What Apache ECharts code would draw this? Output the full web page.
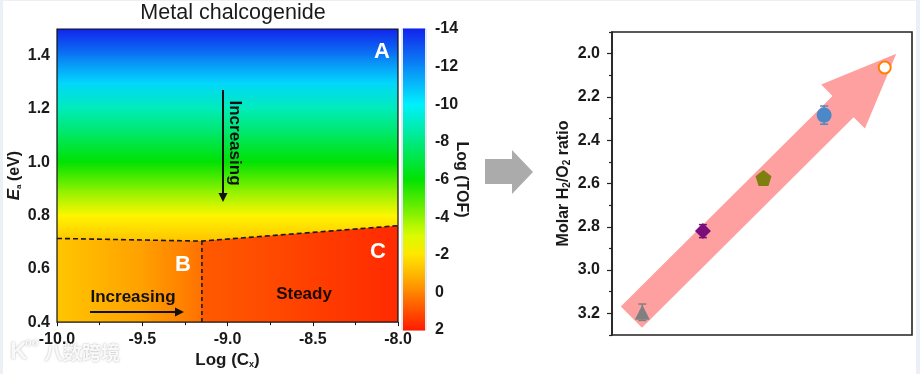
<!DOCTYPE html>
<html><head><meta charset="utf-8">
<script src="https://cdn.jsdelivr.net/npm/echarts@6/dist/echarts.min.js"></script>
<style>html,body{margin:0;padding:0;background:#fff;}#c{width:920px;height:374px;}</style>
</head><body><div id="c"></div>
<script>
// ---------------- data ----------------
// Left panel: Log(TOF) field (read from the colour map)
const eaLevels   = [0.70, 0.80, 0.90, 1.00, 1.10, 1.20, 1.30, 1.40, 1.50];
const tofByEa    = [-1.2, -2.3, -4.2, -6.0, -7.5, -8.9, -10.5, -12.3, -14.0];
const logCRegionB = [-10.0, -9.75, -9.5, -9.25, -9.15];
const tofRegionB  = [-1.3, -0.9, -0.5, 0.1, 0.4];
const logCRegionC = [-9.15, -8.75, -8.4, -8.0];
const tofRegionC  = [0.8, 1.1, 1.4, 1.7];
const boundaryLogC = [-10.0, -9.15, -8.0];
const boundaryEa   = [0.714, 0.704, 0.762];
const eaFloor = 0.4;
const cbarValues = [-14, -12, -10, -8, -6, -4, -2, 0, 2];

// Right panel: molar H2/O2 ratio
const sampleIndex = [1, 2, 3, 4, 5];
const h2o2Ratio   = [3.195, 2.82, 2.575, 2.284, 2.064];
const h2o2Err     = [0.038, 0.030, 0.020, 0.042, 0.015];
const ratioLabels = [2.0, 2.2, 2.4, 2.6, 2.8, 3.0, 3.2];
const ratioMinor  = [1.9, 2.1, 2.3, 2.5, 2.7, 2.9, 3.1, 3.3];
const trendTail = [0.82, 3.217];
const trendTip  = [5.19, 2.0];

// ---------------- styles ----------------
const cmapStops = [[-14,[18,34,236]],[-10,[0,240,255]],[-6,[0,226,0]],[-2.5,[255,255,0]],[-0.5,[255,160,0]],[2,[255,26,0]]];
function tofColor(v){
  if (v <= cmapStops[0][0]) return 'rgb(' + cmapStops[0][1].join(',') + ')';
  for (let i = 0; i < cmapStops.length - 1; i++) {
    const a = cmapStops[i], b = cmapStops[i+1];
    if (v <= b[0]) {
      const t = (v - a[0]) / (b[0] - a[0]);
      const c = a[1].map((x, k) => Math.round(x + (b[1][k] - x) * t));
      return 'rgb(' + c.join(',') + ')';
    }
  }
  return 'rgb(' + cmapStops[cmapStops.length-1][1].join(',') + ')';
}
function boundaryAt(x){
  for (let i = 0; i < boundaryLogC.length - 1; i++) {
    if (x <= boundaryLogC[i+1] + 1e-9) {
      const t = (x - boundaryLogC[i]) / (boundaryLogC[i+1] - boundaryLogC[i]);
      return boundaryEa[i] + (boundaryEa[i+1] - boundaryEa[i]) * t;
    }
  }
  return boundaryEa[boundaryEa.length-1];
}
const markerStyles = [
  {symbol:'triangle', size:15, color:'#808080'},
  {symbol:'diamond', size:16, color:'#7a0f7a'},
  {symbol:'path://M0,-1 L0.951,-0.309 L0.588,0.809 L-0.588,0.809 L-0.951,-0.309 Z', size:16, color:'#7f7f10'},
  {symbol:'circle', size:15, color:'#4a88c8'},
  {symbol:'emptyCircle', size:12, color:'#ff8000'}
];
const FONT = 'Liberation Sans, Arial, sans-serif';
const txt = '#1a1a1a';

const chart = echarts.init(document.getElementById('c'), null, {renderer:'canvas'});

function columnRenderer(xs, vs){
  return function(params, api){
    const i = params.dataIndex;
    if (i >= xs.length - 1) return null;
    const x0 = xs[i], x1 = xs[i+1];
    const pA = api.coord([x0, eaFloor]), pB = api.coord([x1, eaFloor]);
    const pC = api.coord([x1, boundaryAt(x1)]), pD = api.coord([x0, boundaryAt(x0)]);
    const ov = 0.6;
    return {
      type:'polygon',
      shape:{points:[[pA[0]-ov,pA[1]],[pB[0]+ov,pB[1]],[pC[0]+ov,pC[1]],[pD[0]-ov,pD[1]]]},
      style:{fill:new echarts.graphic.LinearGradient(0,0,1,0,[{offset:0,color:tofColor(vs[i])},{offset:1,color:tofColor(vs[i+1])}])}
    };
  };
}

const option = {
  backgroundColor:'#eaf0f6',
  animation:false,
  grid:[
    {left:57, top:29, width:341, height:301, show:true, borderColor:'#111', borderWidth:1.2, backgroundColor:'transparent', z:5},
    {left:402, top:29, width:24, height:301, show:true, borderColor:'#c9d6ea', borderWidth:1},
    {left:612, top:32, width:300, height:303, show:true, borderColor:'#222', borderWidth:1.6}
  ],
  xAxis:[
    {gridIndex:0, type:'value', min:-10, max:-8, interval:0.5,
      axisLine:{show:false}, splitLine:{show:false},
      axisTick:{show:true, length:4, lineStyle:{color:'#111'}},
      minorTick:{show:true, splitNumber:2, length:3, lineStyle:{color:'#111'}},
      axisLabel:{formatter:v=>v.toFixed(1), fontFamily:FONT, fontWeight:'bold', fontSize:16, color:txt, margin:9},
      name:'{n|Log (C}{s|x}{n|)}', nameLocation:'middle', nameGap:26,
      nameTextStyle:{rich:{n:{fontFamily:FONT, fontWeight:'bold', fontSize:17, color:txt}, s:{fontFamily:FONT, fontWeight:'bold', fontSize:9, color:txt, padding:[8,0,0,0]}}}},
    {gridIndex:1, type:'value', min:0, max:1, show:false},
    {gridIndex:2, type:'value', min:0.5, max:5.45, show:false}
  ],
  yAxis:[
    {gridIndex:0, type:'value', min:0.4, max:1.5, interval:0.2,
      axisLine:{show:false}, splitLine:{show:false}, axisTick:{show:false},
      axisLabel:{formatter:v=>v.toFixed(1), showMaxLabel:false, fontFamily:FONT, fontWeight:'bold', fontSize:16, color:txt, margin:7},
      name:'{e|E}{s|a} {n|(eV)}', nameLocation:'middle', nameGap:34, nameRotate:90,
      nameTextStyle:{rich:{e:{fontFamily:FONT, fontWeight:'bold', fontStyle:'italic', fontSize:17, color:txt}, n:{fontFamily:FONT, fontWeight:'bold', fontSize:16, color:txt}, s:{fontFamily:FONT, fontWeight:'bold', fontSize:8, color:txt, padding:[8,0,0,0]}}}},
    {gridIndex:1, type:'value', min:-14, max:2, interval:2, inverse:true, position:'right',
      axisLine:{show:false}, splitLine:{show:false}, axisTick:{show:false},
      axisLabel:{fontFamily:FONT, fontWeight:'bold', fontSize:16, color:txt, margin:9},
      name:'Log (TOF)', nameLocation:'middle', nameRotate:-90, nameGap:27, nameMoveOverlap:false,
      nameTextStyle:{fontFamily:FONT, fontWeight:'bold', fontSize:16, color:txt}},
    {gridIndex:2, type:'value', min:1.9, max:3.3, inverse:true, position:'left',
      axisLine:{show:true, lineStyle:{color:'#222', width:1.6}}, splitLine:{show:false},
      axisTick:{show:true, length:5, customValues:ratioLabels, lineStyle:{color:'#222', width:1.2}},
      axisLabel:{customValues:ratioLabels, formatter:v=>(+v).toFixed(1), fontFamily:FONT, fontWeight:'bold', fontSize:16, color:txt, margin:12},
      name:'{n|Molar H}{s|2}{n|/O}{s|2}{n| ratio}', nameLocation:'middle', nameRotate:90, nameGap:40,
      nameTextStyle:{rich:{n:{fontFamily:FONT, fontWeight:'bold', fontSize:16, color:txt}, s:{fontFamily:FONT, fontWeight:'bold', fontSize:10, color:txt, padding:[7,0,0,0]}}}},
    {gridIndex:2, type:'value', min:1.9, max:3.3, inverse:true, position:'left', offset:0,
      axisLine:{show:false}, splitLine:{show:false}, axisLabel:{show:false},
      axisTick:{show:true, length:3, customValues:ratioMinor, lineStyle:{color:'#222', width:1.2}}}
  ],
  series:[
    // upper field (Ea-dependent bands)
    {type:'custom', xAxisIndex:0, yAxisIndex:0, clip:true, z:1,
      data:eaLevels.map((e,i)=>[e, tofByEa[i]]),
      renderItem:function(params, api){
        const i = params.dataIndex;
        if (i >= eaLevels.length - 1) return null;
        const p0 = api.coord([-10, eaLevels[i]]), p1 = api.coord([-8, eaLevels[i+1]]);
        return {type:'rect', shape:{x:p0[0], y:p1[1]-0.6, width:p1[0]-p0[0], height:p0[1]-p1[1]+1.2},
          style:{fill:new echarts.graphic.LinearGradient(0,0,0,1,[{offset:0,color:tofColor(tofByEa[i+1])},{offset:1,color:tofColor(tofByEa[i])}])}};
      }},
    // region B
    {type:'custom', xAxisIndex:0, yAxisIndex:0, clip:true, z:2,
      data:logCRegionB.map((x,i)=>[x, tofRegionB[i]]), renderItem:columnRenderer(logCRegionB, tofRegionB)},
    // region C
    {type:'custom', xAxisIndex:0, yAxisIndex:0, clip:true, z:2,
      data:logCRegionC.map((x,i)=>[x, tofRegionC[i]]), renderItem:columnRenderer(logCRegionC, tofRegionC)},
    // dashed boundaries
    {type:'line', xAxisIndex:0, yAxisIndex:0, z:4, symbol:'none', silent:true,
      data:boundaryLogC.map((x,i)=>[x, boundaryEa[i]]),
      lineStyle:{color:'#1a1a1a', width:1.6, type:[5,3]}},
    {type:'line', xAxisIndex:0, yAxisIndex:0, z:4, symbol:'none', silent:true,
      data:[[boundaryLogC[1], boundaryEa[1]], [boundaryLogC[1], eaFloor]],
      lineStyle:{color:'#1a1a1a', width:1.6, type:[4,3]}},
    // colour bar
    {type:'custom', xAxisIndex:1, yAxisIndex:1, z:1,
      data:cbarValues.map(v=>[0.5, v]),
      renderItem:function(params, api){
        const i = params.dataIndex;
        if (i >= cbarValues.length - 1) return null;
        const p0 = api.coord([0, cbarValues[i]]), p1 = api.coord([1, cbarValues[i+1]]);
        return {type:'rect', shape:{x:p0[0]+1, y:p0[1]-0.5, width:p1[0]-p0[0]-2, height:p1[1]-p0[1]+1},
          style:{fill:new echarts.graphic.LinearGradient(0,0,0,1,[
            {offset:0,color:tofColor(cbarValues[i])},
            {offset:0.5,color:tofColor((cbarValues[i]+cbarValues[i+1])/2)},
            {offset:1,color:tofColor(cbarValues[i+1])}])}};
      }},
    // trend arrow
    {type:'custom', xAxisIndex:2, yAxisIndex:2, z:1, silent:true,
      data:[[trendTail[0], trendTail[1], trendTip[0], trendTip[1]]],
      renderItem:function(params, api){
        const a = api.coord([api.value(0), api.value(1)]);
        const b = api.coord([api.value(2), api.value(3)]);
        const dx = b[0]-a[0], dy = b[1]-a[1], L = Math.hypot(dx, dy);
        const ux = dx/L, uy = dy/L, nx = -uy, ny = ux;
        const hw = 15, hh = 31, headLen = 75;
        const bx = b[0]-ux*headLen, by = b[1]-uy*headLen;
        const P = (x,y,s,w)=>[x+nx*s*w, y+ny*s*w];
        return {type:'polygon', shape:{points:[
          P(a[0],a[1],1,hw), P(bx,by,1,hw), P(bx,by,1,hh), b, P(bx,by,-1,hh), P(bx,by,-1,hw), P(a[0],a[1],-1,hw)]},
          style:{fill:'#ffa0a0'}};
      }},
    // error bars
    {type:'custom', xAxisIndex:2, yAxisIndex:2, z:3,
      data:sampleIndex.map((x,i)=>[x, h2o2Ratio[i]-h2o2Err[i], h2o2Ratio[i]+h2o2Err[i]]),
      renderItem:function(params, api){
        const i = params.dataIndex;
        const lo = api.coord([api.value(0), api.value(1)]);
        const hi = api.coord([api.value(0), api.value(2)]);
        const c = markerStyles[i].color, w = 4;
        return {type:'group', children:[
          {type:'line', shape:{x1:lo[0], y1:lo[1], x2:hi[0], y2:hi[1]}, style:{stroke:c, lineWidth:1.5}},
          {type:'line', shape:{x1:lo[0]-w, y1:lo[1], x2:lo[0]+w, y2:lo[1]}, style:{stroke:c, lineWidth:1.5}},
          {type:'line', shape:{x1:hi[0]-w, y1:hi[1], x2:hi[0]+w, y2:hi[1]}, style:{stroke:c, lineWidth:1.5}}
        ]};
      }},
    // markers
    {type:'scatter', xAxisIndex:2, yAxisIndex:2, z:4,
      data:sampleIndex.map((x,i)=>({
        value:[x, h2o2Ratio[i]],
        symbol:markerStyles[i].symbol, symbolSize:markerStyles[i].size,
        itemStyle: markerStyles[i].symbol === 'emptyCircle'
          ? {color:markerStyles[i].color, borderColor:markerStyles[i].color, borderWidth:4.5, opacity:1}
          : {color:markerStyles[i].color, opacity:1}
      }))}
  ],
  graphic:[
    {type:'rect', z:-10, silent:true, shape:{x:3, y:1, width:913, height:373}, style:{fill:'#ffffff'}},
    {type:'text', z:100, x:233, y:13, style:{text:'Metal chalcogenide', font:'21.5px ' + FONT, fill:'#1a1a1a', align:'center', verticalAlign:'middle'}},
    {type:'text', z:100, x:382, y:52, style:{text:'A', font:'bold 22px ' + FONT, fill:'#ffffff', align:'center', verticalAlign:'middle'}},
    {type:'text', z:100, x:183, y:265, style:{text:'B', font:'bold 22px ' + FONT, fill:'#ffffff', align:'center', verticalAlign:'middle'}},
    {type:'text', z:100, x:378, y:252, style:{text:'C', font:'bold 22px ' + FONT, fill:'#ffffff', align:'center', verticalAlign:'middle'}},
    {type:'text', z:100, x:304, y:294, style:{text:'Steady', font:'bold 17px ' + FONT, fill:'#1a0800', align:'center', verticalAlign:'middle'}},
    {type:'text', z:100, x:133, y:297, style:{text:'Increasing', font:'bold 17px ' + FONT, fill:'#111', align:'center', verticalAlign:'middle'}},
    {type:'line', z:100, shape:{x1:90, y1:312, x2:177, y2:312}, style:{stroke:'#111', lineWidth:2}},
    {type:'polygon', z:100, shape:{points:[[175,307.5],[184,312],[175,316.5]]}, style:{fill:'#111'}},
    {type:'text', z:100, x:235, y:143, rotation:-Math.PI/2, style:{text:'Increasing', font:'bold 17px ' + FONT, fill:'#111', align:'center', verticalAlign:'middle'}},
    {type:'line', z:100, shape:{x1:223, y1:90, x2:223, y2:195}, style:{stroke:'#111', lineWidth:2}},
    {type:'polygon', z:100, shape:{points:[[218.5,193],[223,202],[227.5,193]]}, style:{fill:'#111'}},
    {type:'polygon', z:100, shape:{points:[[485,159],[512,159],[512,150],[533,172],[512,194],[512,184],[485,184]]}, style:{fill:'#ababab'}},
    {type:'text', z:100, x:10, y:352, style:{text:'K', font:'bold 24px ' + FONT, fill:'rgba(255,255,255,0.9)', verticalAlign:'middle', textShadowColor:'rgba(0,0,0,0.35)', textShadowBlur:2}},
    {type:'text', z:100, x:25, y:343, style:{text:'oo', font:'bold 11px ' + FONT, fill:'rgba(255,255,255,0.9)', verticalAlign:'middle', textShadowColor:'rgba(0,0,0,0.35)', textShadowBlur:2}},
    {type:'text', z:100, x:44, y:353, style:{text:'八数跨境', font:'bold 19px "Noto Sans CJK SC"', fill:'rgba(255,255,255,0.9)', verticalAlign:'middle', textShadowColor:'rgba(0,0,0,0.35)', textShadowBlur:2}}
  ]
};
chart.setOption(option);
</script></body></html>
